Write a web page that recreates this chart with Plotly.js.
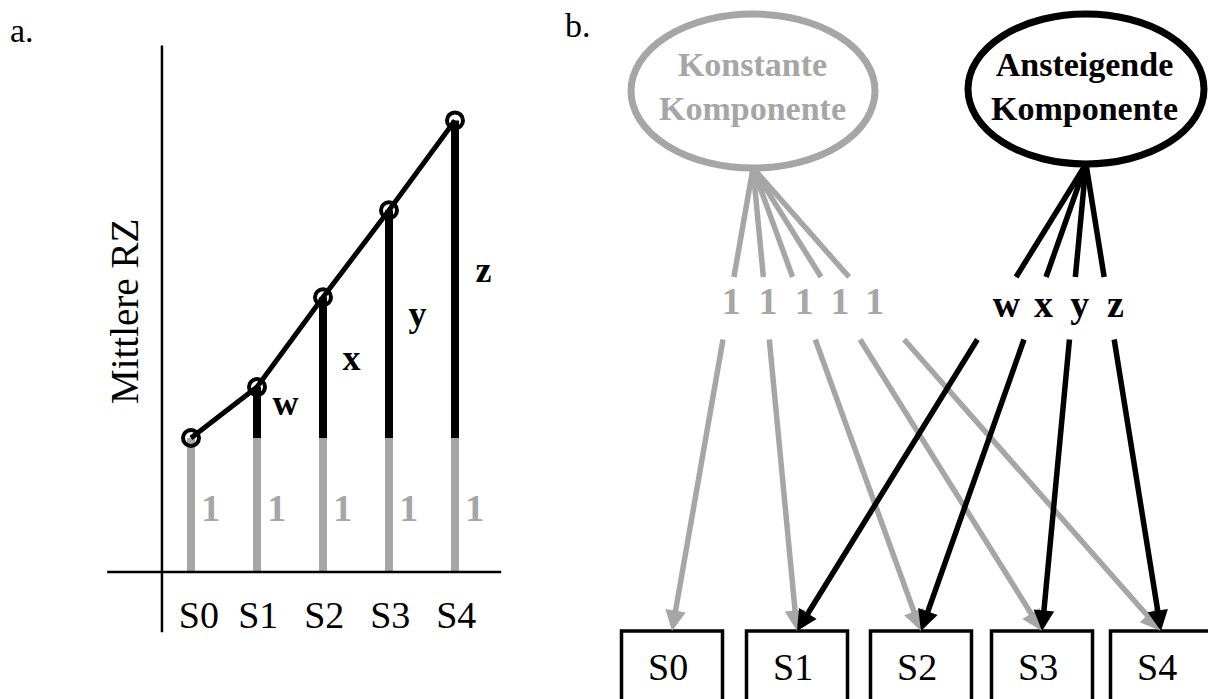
<!DOCTYPE html>
<html>
<head>
<meta charset="utf-8">
<script src="https://cdn.plot.ly/plotly-3.0.1.min.js"></script>
<style>html,body{margin:0;padding:0;background:#fff;}#chart{width:1208px;height:699px;}</style>
</head>
<body>
<div id="chart"></div>
<script>
// ---- data ----
const stages = ['S0', 'S1', 'S2', 'S3', 'S4'];
const meanRT = [1.00, 1.38, 2.05, 2.70, 3.37];     // mean RT per stage (relative units)
const constantLevel = [1, 1, 1, 1, 1];              // constant component per stage
const constantLoadings = ['1', '1', '1', '1', '1'];
const slopeLoadings = ['w', 'x', 'y', 'z'];         // loadings for S1..S4
const slopeStages = ['S1', 'S2', 'S3', 'S4'];
const latentNames = ['Konstante<br>Komponente', 'Ansteigende<br>Komponente'];
const panelLabels = ['a.', 'b.'];

// ---- styles ----
const GRAY = '#a6a6a6';
const BLACK = '#000000';
const SERIF = 'Liberation Serif, Times New Roman, serif';

// ---- panel a (data axes) ----
const idx = stages.map((_, i) => i);
const traces = [];

// gray stems (constant part)
const gx = [], gy = [];
idx.forEach(i => { gx.push(i, i, null); gy.push(0, constantLevel[i], null); });
traces.push({x: gx, y: gy, mode: 'lines', line: {color: GRAY, width: 8}, xaxis: 'x', yaxis: 'y', hoverinfo: 'skip'});

// black stems (increasing part)
const bx = [], by = [];
idx.slice(1).forEach(i => { bx.push(i, i, null); by.push(constantLevel[i], meanRT[i], null); });
traces.push({x: bx, y: by, mode: 'lines', line: {color: BLACK, width: 8}, xaxis: 'x', yaxis: 'y', hoverinfo: 'skip'});

// mean RT line with markers
traces.push({x: idx, y: meanRT, mode: 'lines+markers', line: {color: BLACK, width: 5},
  marker: {symbol: 'circle-open', size: 16, color: BLACK, line: {width: 4}},
  xaxis: 'x', yaxis: 'y', hoverinfo: 'skip'});

// gray "1" labels
traces.push({x: idx.map(i => i + 0.3), y: idx.map(() => 0.45), mode: 'text', text: constantLoadings,
  textfont: {family: SERIF, size: 38, color: GRAY, weight: 700}, textposition: 'middle center',
  xaxis: 'x', yaxis: 'y', hoverinfo: 'skip'});

// w x y z labels
traces.push({x: slopeStages.map(s => stages.indexOf(s) + 0.43),
  y: slopeStages.map(s => (constantLevel[stages.indexOf(s)] + meanRT[stages.indexOf(s)]) / 2 + 0.05),
  mode: 'text', text: slopeLoadings,
  textfont: {family: SERIF, size: 36, color: BLACK, weight: 700}, textposition: 'middle center',
  xaxis: 'x', yaxis: 'y', hoverinfo: 'skip'});

// stage labels under the axis
traces.push({x: idx.map(i => i + (i === 0 ? 0.12 : 0.02)), y: idx.map(() => -0.35), mode: 'text', text: stages,
  textfont: {family: SERIF, size: 38, color: BLACK}, textposition: 'middle center',
  xaxis: 'x', yaxis: 'y', hoverinfo: 'skip'});

// ---- panel b (pixel-like layout axes) ----
const boxX = [672, 797, 921, 1042, 1161];
const boxW = 101, boxTop = 631;
const origins = [{x: 753, y: 168}, {x: 1086, y: 164}];
const gapTop = 277, gapBottom = 338, labelY = 304;
function onLine(o, tx, ty, y) { return o.x + (tx - o.x) * (y - o.y) / (ty - o.y); }

const annotations = [];
const shapes = [];

// upper segments
const ugx = [], ugy = [];
stages.forEach((s, i) => { ugx.push(origins[0].x, onLine(origins[0], boxX[i], boxTop, gapTop), null); ugy.push(origins[0].y, gapTop, null); });
traces.push({x: ugx, y: ugy, mode: 'lines', line: {color: GRAY, width: 5.5}, xaxis: 'x2', yaxis: 'y2', hoverinfo: 'skip'});
const ubx = [], uby = [];
slopeStages.forEach(s => { const i = stages.indexOf(s); ubx.push(origins[1].x, onLine(origins[1], boxX[i], boxTop, gapTop), null); uby.push(origins[1].y, gapTop, null); });
traces.push({x: ubx, y: uby, mode: 'lines', line: {color: BLACK, width: 5.5}, xaxis: 'x2', yaxis: 'y2', hoverinfo: 'skip'});

// loading labels
traces.push({x: stages.map((s, i) => onLine(origins[0], boxX[i], boxTop, labelY) + 2), y: stages.map(() => labelY),
  mode: 'text', text: constantLoadings, textfont: {family: SERIF, size: 38, color: GRAY, weight: 700},
  textposition: 'middle center', xaxis: 'x2', yaxis: 'y2', hoverinfo: 'skip'});
traces.push({x: slopeStages.map(s => onLine(origins[1], boxX[stages.indexOf(s)], boxTop, labelY) + 7), y: slopeStages.map(() => labelY + 3),
  mode: 'text', text: slopeLoadings, textfont: {family: SERIF, size: 38, color: BLACK, weight: 700},
  textposition: 'middle center', xaxis: 'x2', yaxis: 'y2', hoverinfo: 'skip'});

// lower arrow segments: gray first, black on top
stages.forEach((s, i) => {
  annotations.push({xref: 'x2', yref: 'y2', axref: 'x2', ayref: 'y2', x: boxX[i], y: boxTop,
    ax: onLine(origins[0], boxX[i], boxTop, gapBottom), ay: gapBottom, text: '', showarrow: true,
    arrowhead: 2, arrowsize: 0.75, arrowwidth: 5.5, arrowcolor: GRAY, standoff: 0});
});
slopeStages.forEach(s => {
  const i = stages.indexOf(s);
  annotations.push({xref: 'x2', yref: 'y2', axref: 'x2', ayref: 'y2', x: boxX[i], y: boxTop,
    ax: onLine(origins[1], boxX[i], boxTop, gapBottom), ay: gapBottom, text: '', showarrow: true,
    arrowhead: 2, arrowsize: 0.75, arrowwidth: 5.5, arrowcolor: BLACK, standoff: 0});
});

// stage boxes
stages.forEach((s, i) => {
  shapes.push({type: 'rect', xref: 'x2', yref: 'y2', x0: boxX[i] - boxW / 2, x1: boxX[i] + boxW / 2, y0: boxTop, y1: 760,
    line: {color: BLACK, width: 3.5}, fillcolor: 'rgba(0,0,0,0)'});
  annotations.push({xref: 'x2', yref: 'y2', x: boxX[i] - 4, y: 667, text: s, showarrow: false,
    font: {family: SERIF, size: 38, color: BLACK}, xanchor: 'center', yanchor: 'middle'});
});

// latent ellipses
shapes.push({type: 'circle', xref: 'x2', yref: 'y2', x0: 631, x1: 875, y0: 14, y1: 168, line: {color: GRAY, width: 7}});
shapes.push({type: 'circle', xref: 'x2', yref: 'y2', x0: 968, x1: 1204, y0: 14, y1: 164, line: {color: BLACK, width: 7}});
annotations.push({xref: 'x2', yref: 'y2', x: 752, y: 86, text: latentNames[0], showarrow: false,
  font: {family: SERIF, size: 34, color: GRAY, weight: 700}, xanchor: 'center', yanchor: 'middle'});
annotations.push({xref: 'x2', yref: 'y2', x: 1084, y: 86, text: latentNames[1], showarrow: false,
  font: {family: SERIF, size: 34, color: BLACK, weight: 700}, xanchor: 'center', yanchor: 'middle'});

// panel a axis lines (in data coordinates)
shapes.push({type: 'line', xref: 'x', yref: 'y', x0: -0.44, x1: -0.44, y0: -0.45, y1: 3.93, line: {color: BLACK, width: 2.5}});
shapes.push({type: 'line', xref: 'x', yref: 'y', x0: -1.27, x1: 4.7, y0: 0, y1: 0, line: {color: BLACK, width: 2.5}});

// y title and panel labels
annotations.push({xref: 'x2', yref: 'y2', x: 124, y: 312, text: 'Mittlere RZ', textangle: -90, showarrow: false,
  font: {family: SERIF, size: 39, color: BLACK}, xanchor: 'center', yanchor: 'middle'});
annotations.push({xref: 'x2', yref: 'y2', x: 8, y: 30, text: panelLabels[0], showarrow: false,
  font: {family: SERIF, size: 34, color: BLACK}, xanchor: 'left', yanchor: 'middle'});
annotations.push({xref: 'x2', yref: 'y2', x: 563, y: 25, text: panelLabels[1], showarrow: false,
  font: {family: SERIF, size: 34, color: BLACK}, xanchor: 'left', yanchor: 'middle'});

const hidden = {visible: false, showgrid: false, zeroline: false, fixedrange: true};
const layout = {
  width: 1208, height: 699,
  margin: {l: 0, r: 0, t: 0, b: 0, pad: 0},
  paper_bgcolor: '#ffffff', plot_bgcolor: 'rgba(0,0,0,0)',
  showlegend: false,
  xaxis: Object.assign({}, hidden, {domain: [0, 560 / 1208], range: [-191 / 66, (560 - 191) / 66], anchor: 'y'}),
  yaxis: Object.assign({}, hidden, {domain: [0, 1], range: [(572 - 699) / 134, 572 / 134], anchor: 'x'}),
  xaxis2: Object.assign({}, hidden, {domain: [0, 1], range: [0, 1208], anchor: 'y2'}),
  yaxis2: Object.assign({}, hidden, {domain: [0, 1], range: [699, 0], anchor: 'x2'}),
  shapes: shapes,
  annotations: annotations
};
Plotly.newPlot('chart', traces, layout, {displayModeBar: false, staticPlot: true});
</script>
</body>
</html>
